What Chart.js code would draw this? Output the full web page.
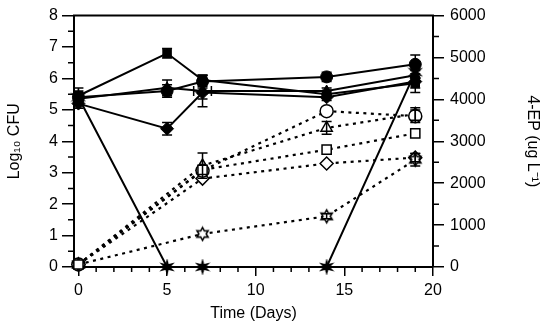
<!DOCTYPE html>
<html><head><meta charset="utf-8">
<script src="https://cdn.jsdelivr.net/npm/chart.js@4"></script>
<style>html,body{margin:0;padding:0;background:#fff}#wrap{width:550px;height:329px}</style>
</head><body><div id="wrap"><canvas id="c" width="550" height="329"></canvas></div>
<script>
// ---- data ----
const cfuDays = [0, 5, 7, 14, 19];
const epDays = [0, 7, 14, 19];
const xTickValues = [0, 5, 10, 15, 20];
const yLeftTickValues = [0, 1, 2, 3, 4, 5, 6, 7, 8];
const yRightTickValues = [0, 1000, 2000, 3000, 4000, 5000, 6000];

// Log10 CFU (solid lines, filled markers)
const cfuSquare = [5.45, 6.8, 5.95, 5.5, 5.85];
const cfuSquareErr = [0.25, 0.15, 0.15, 0.1, 0.15];
const cfuCircle = [5.4, 5.6, 5.9, 6.05, 6.45];
const cfuCircleErr = [0.2, 0.2, 0.2, 0.15, 0.3];
const cfuTriangle = [5.35, 5.7, 5.6, 5.6, 6.1];
const cfuTriangleErr = [0.2, 0.25, 0.5, 0.1, 0.2];
const cfuTriangleXErr = [0, 0, 0.5, 0, 0];
const cfuDiamond = [5.2, 4.4, 5.55, 5.4, 5.9];
const cfuDiamondErr = [0.15, 0.2, 0.2, 0.1, 0.35];
const cfuStar = [5.4, 0, 0, 0, 6.2];
const cfuStarErr = [0, 0, 0, 0, 0];

// 4-EP (ug/L) (dotted lines, open markers)
const epCircle = [60, 2300, 3720, 3600];
const epCircleErr = [0, 0, 0, 150];
const epTriangle = [60, 2420, 3320, 3650];
const epTriangleErr = [0, 300, 150, 150];
const epSquare = [60, 2320, 2800, 3190];
const epSquareErr = [0, 0, 0, 0];
const epDiamond = [60, 2110, 2470, 2610];
const epDiamondErr = [0, 0, 0, 100];
const epStar = [60, 790, 1210, 2560];
const epStarErr = [0, 0, 60, 150];

// ---- marker images ----
function starImg(filled, R, r) {
  const s = Math.ceil(R * 2 + 4), c = document.createElement('canvas');
  c.width = s; c.height = s;
  const g = c.getContext('2d');
  g.beginPath();
  for (let i = 0; i < 12; i++) {
    const a = -Math.PI / 2 + i * Math.PI / 6;
    const rad = i % 2 ? r : R;
    const px = s / 2 + rad * Math.cos(a), py = s / 2 + rad * Math.sin(a);
    i ? g.lineTo(px, py) : g.moveTo(px, py);
  }
  g.closePath();
  g.fillStyle = filled ? '#000' : '#fff';
  g.fill();
  g.lineWidth = 1.5; g.strokeStyle = '#000'; g.stroke();
  return c;
}
const filledStar = starImg(true, 6, 2.2);
const openStar = starImg(false, 6.5, 3.6);

function pts(xs, ys) { return xs.map((x, i) => ({ x: x, y: ys[i] })); }

function solid(vals, err, style, xerr) {
  return {
    data: pts(cfuDays, vals), yAxisID: 'y', yerr: err, xerr: xerr,
    borderColor: '#000', borderWidth: 2, pointStyle: style,
    pointRadius: style === 'rectRot' ? 6.5 : 6, pointBackgroundColor: '#000', pointBorderColor: '#000',
    pointBorderWidth: 1, clip: false, tension: 0
  };
}
function dotted(vals, err, style) {
  return {
    data: pts(epDays, vals), yAxisID: 'y2', yerr: err,
    borderColor: '#000', borderWidth: 2.2, borderDash: [3, 4.5], pointStyle: style,
    pointRadius: 6.5, pointBackgroundColor: '#fff', pointBorderColor: '#000',
    pointBorderWidth: 1.5, clip: false, tension: 0
  };
}

const errPlugin = {
  id: 'errbars',
  afterDatasetsDraw(chart) {
    const ctx = chart.ctx, xs = chart.scales.x;
    ctx.save();
    ctx.strokeStyle = '#000'; ctx.lineWidth = 1.5; ctx.setLineDash([]);
    chart.data.datasets.forEach(ds => {
      const ys = chart.scales[ds.yAxisID];
      ds.data.forEach((p, j) => {
        const e = ds.yerr ? ds.yerr[j] : 0;
        const px = xs.getPixelForValue(p.x);
        const py = ys.getPixelForValue(p.y);
        if (e) {
          const y1 = ys.getPixelForValue(p.y + e), y2 = ys.getPixelForValue(p.y - e);
          ctx.beginPath();
          ctx.moveTo(px, y1); ctx.lineTo(px, y2);
          ctx.moveTo(px - 5, y1); ctx.lineTo(px + 5, y1);
          ctx.moveTo(px - 5, y2); ctx.lineTo(px + 5, y2);
          ctx.stroke();
        }
        const xe = ds.xerr ? ds.xerr[j] : 0;
        if (xe) {
          const x1 = xs.getPixelForValue(p.x - xe), x2 = xs.getPixelForValue(p.x + xe);
          ctx.beginPath();
          ctx.moveTo(x1, py); ctx.lineTo(x2, py);
          ctx.moveTo(x1, py - 5); ctx.lineTo(x1, py + 5);
          ctx.moveTo(x2, py - 5); ctx.lineTo(x2, py + 5);
          ctx.stroke();
        }
      });
    });
    ctx.restore();
  }
};

const framePlugin = {
  id: 'frame',
  afterDraw(chart) {
    const ctx = chart.ctx, a = chart.chartArea;
    const xs = chart.scales.x, yl = chart.scales.y, yr = chart.scales.y2;
    ctx.save();
    ctx.strokeStyle = '#000'; ctx.lineWidth = 2; ctx.setLineDash([]);
    ctx.beginPath(); ctx.moveTo(a.left - 1, a.top); ctx.lineTo(a.right + 1, a.top); ctx.stroke();
    ctx.lineWidth = 1.5;
    ctx.beginPath();
    for (let d = 0; d <= 20; d++) {
      if (d % 5 === 0) continue;
      const px = xs.getPixelForValue(d);
      ctx.moveTo(px, a.bottom); ctx.lineTo(px, a.bottom + 5);
    }
    for (let v = 0.5; v < 8; v += 1) {
      const py = yl.getPixelForValue(v);
      ctx.moveTo(a.left, py); ctx.lineTo(a.left - 6, py);
    }
    for (let v = 500; v < 6000; v += 1000) {
      const py = yr.getPixelForValue(v);
      ctx.moveTo(a.right, py); ctx.lineTo(a.right + 6, py);
    }
    ctx.stroke();
    ctx.restore();
  }
};

Chart.defaults.font.family = '"Liberation Sans", Arial, Helvetica, sans-serif';
Chart.defaults.font.size = 16;
Chart.defaults.color = '#000';

const axisGrid = (len) => ({ drawOnChartArea: false, color: '#000', lineWidth: 1.5, tickLength: len });
const axisBorder = { display: true, color: '#000', width: 2 };

new Chart(document.getElementById('c'), {
  type: 'line',
  data: {
    datasets: [
      dotted(epSquare, epSquareErr, 'rect'),
      dotted(epStar, epStarErr, openStar),
      dotted(epCircle, epCircleErr, 'circle'),
      dotted(epTriangle, epTriangleErr, 'triangle'),
      dotted(epDiamond, epDiamondErr, 'rectRot'),
      solid(cfuSquare, cfuSquareErr, 'rect'),
      solid(cfuCircle, cfuCircleErr, 'circle'),
      solid(cfuTriangle, cfuTriangleErr, 'triangle', cfuTriangleXErr),
      solid(cfuDiamond, cfuDiamondErr, 'rectRot'),
      solid(cfuStar, cfuStarErr, filledStar)
    ]
  },
  options: {
    responsive: false, animation: false, devicePixelRatio: 1,
    layout: { padding: { top: 12, left: 0, right: 0, bottom: 0 } },
    plugins: { legend: { display: false }, tooltip: { enabled: false } },
    scales: {
      x: {
        type: 'linear', min: -0.25, max: 20,
        afterBuildTicks: s => { s.ticks = xTickValues.map(v => ({ value: v })); },
        afterFit: s => { s.height = 62; },
        grid: axisGrid(9), border: axisBorder,
        ticks: { padding: 5, maxRotation: 0, callback: v => String(v) },
        title: { display: true, text: 'Time (Days)', padding: { top: 0, bottom: 6 } }
      },
      y: {
        type: 'linear', position: 'left', min: 0, max: 8,
        afterBuildTicks: s => { s.ticks = yLeftTickValues.map(v => ({ value: v })); },
        afterFit: s => { s.width = 74; },
        grid: axisGrid(12), border: axisBorder,
        ticks: { padding: 4, callback: v => String(v) },
        title: { display: true, text: 'Log\u2081\u2080 CFU', padding: { top: 5, bottom: 0 } }
      },
      y2: {
        type: 'linear', position: 'right', min: 0, max: 6000,
        afterBuildTicks: s => { s.ticks = yRightTickValues.map(v => ({ value: v })); },
        afterFit: s => { s.width = 117; },
        grid: axisGrid(11), border: axisBorder,
        ticks: { padding: 6, callback: v => String(v) },
        title: { display: true, text: '4-EP (ug L\u207B\u00B9)', padding: { top: 8, bottom: 0 } }
      }
    }
  },
  plugins: [errPlugin, framePlugin]
});
</script>
</body></html>
